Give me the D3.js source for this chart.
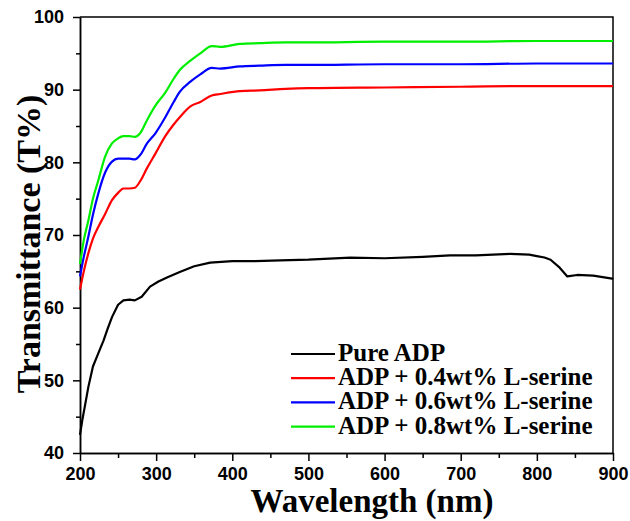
<!DOCTYPE html>
<html>
<head>
<meta charset="utf-8">
<script src="https://cdn.jsdelivr.net/npm/d3@7"></script>
<style>
  body { margin: 0; background: #fff; }
  .axis path, .axis line { stroke: #000; stroke-width: 1.5px; }
  .title { font-family: "Liberation Serif", "Times New Roman", serif; font-weight: bold; fill: #000; }
  .legend text { font-family: "Liberation Serif", "Times New Roman", serif; font-weight: bold; font-size: 25px; fill: #000; }
</style>
</head>
<body>
<svg id="chart"></svg>
<script>
// wavelength (nm) and transmittance (%)
var pureWl = [200, 203, 207, 211, 217, 224, 231, 236, 242, 250, 257, 265, 272, 281, 292, 303, 315, 331, 350, 371,
  400, 430, 463, 500, 555, 600, 650, 686, 720, 765, 790, 800, 810, 818, 830, 840, 853, 874, 899, 900]
var pureT = [42.5, 44.5, 46.8, 49.1, 51.9, 53.7, 55.5, 57.0, 58.7, 60.4, 61.0, 61.1, 61.0, 61.5, 62.9, 63.6, 64.2, 64.9, 65.7, 66.2,
  66.4, 66.4, 66.5, 66.6, 66.9, 66.8, 67.0, 67.2, 67.2, 67.4, 67.3, 67.1, 66.9, 66.6, 65.5, 64.3, 64.5, 64.4, 64.0, 63.9]

var serineWl = [200, 205, 211, 217, 224, 233, 242, 250, 257, 265, 272, 279, 288, 299, 312, 323, 331, 345, 358, 373,
  384, 410, 436, 470, 500, 600, 700, 800, 900]
var serine04 = [62.5, 65.0, 67.5, 69.5, 71.1, 72.9, 74.8, 75.8, 76.4, 76.4, 76.5, 77.4, 79.2, 81.2, 83.6, 85.2, 86.2, 87.7, 88.3, 89.2,
  89.4, 89.8, 89.9, 90.1, 90.2, 90.3, 90.4, 90.5, 90.5]
var serine06 = [64.3, 67.0, 69.8, 72.8, 75.7, 78.6, 80.1, 80.5, 80.5, 80.5, 80.4, 81.0, 82.6, 84.0, 86.2, 88.3, 89.7, 91.1, 92.1, 93.0,
  92.9, 93.2, 93.3, 93.4, 93.4, 93.5, 93.5, 93.6, 93.6]
var serine08 = [66.0, 69.3, 72.0, 75.0, 77.5, 80.8, 82.6, 83.3, 83.6, 83.6, 83.5, 84.0, 85.8, 87.8, 89.6, 91.5, 92.7, 94.0, 95.0, 96.0,
  95.9, 96.3, 96.4, 96.5, 96.5, 96.6, 96.6, 96.7, 96.7]

var seriesNames = ["Pure ADP", "ADP + 0.4wt% L-serine", "ADP + 0.6wt% L-serine", "ADP + 0.8wt% L-serine"]
var seriesColors = ["#000000", "#ff0000", "#0000ff", "#00ee00"]

var xTicks = [200, 300, 400, 500, 600, 700, 800, 900]
var yTicks = [40, 50, 60, 70, 80, 90, 100]

var width = 630, height = 521
var margin = { top: 17, right: 17, bottom: 68, left: 80 }
var plotW = width - margin.left - margin.right
var plotH = height - margin.top - margin.bottom

var svg = d3.select("#chart").attr("width", width).attr("height", height)
var g = svg.append("g").attr("transform", "translate(" + margin.left + "," + margin.top + ")")

var xScale = d3.scaleLinear().domain([200, 900]).range([0, plotW])
var yScale = d3.scaleLinear().domain([40, 100]).range([plotH, 0])

// minor ticks halfway between the majors
var xMinor = xTicks.slice(0, -1).map(function(d) { return d + 50 })
var yMinor = yTicks.slice(0, -1).map(function(d) { return d + 5 })

function styleTicks(sel) {
  sel.attr("font-family", "'Liberation Sans', Arial, sans-serif")
    .attr("font-weight", "bold")
    .attr("font-size", 18)
  sel.selectAll("text").attr("fill", "#000")
}

g.append("g").attr("class", "axis")
  .attr("transform", "translate(0," + plotH + ")")
  .call(d3.axisBottom(xScale).tickValues(xMinor).tickSize(5).tickSizeOuter(0).tickFormat(""))
g.append("g").attr("class", "axis")
  .attr("transform", "translate(0," + plotH + ")")
  .call(d3.axisBottom(xScale).tickValues(xTicks).tickSize(8).tickSizeOuter(0).tickPadding(6))
  .call(styleTicks)

g.append("g").attr("class", "axis")
  .call(d3.axisLeft(yScale).tickValues(yMinor).tickSize(4).tickSizeOuter(0).tickFormat(""))
g.append("g").attr("class", "axis")
  .call(d3.axisLeft(yScale).tickValues(yTicks).tickSize(7).tickSizeOuter(0).tickPadding(9))
  .call(styleTicks)

// top and right frame
g.append("path")
  .attr("d", "M0,0H" + plotW + "V" + plotH)
  .attr("fill", "none").attr("stroke", "#000").attr("stroke-width", 1.5)

var lineSmooth = d3.line()
  .x(function(d) { return xScale(d[0]) })
  .y(function(d) { return yScale(d[1]) })
  .curve(d3.curveMonotoneX)
var lineRough = d3.line()
  .x(function(d) { return xScale(d[0]) })
  .y(function(d) { return yScale(d[1]) })

var series = [
  { pts: d3.zip(pureWl, pureT), line: lineRough },
  { pts: d3.zip(serineWl, serine04), line: lineSmooth },
  { pts: d3.zip(serineWl, serine06), line: lineSmooth },
  { pts: d3.zip(serineWl, serine08), line: lineSmooth }
]

g.selectAll(".curve")
  .data(series)
  .enter()
  .append("path")
  .attr("class", "curve")
  .attr("fill", "none")
  .attr("stroke", function(d, i) { return seriesColors[i] })
  .attr("stroke-width", 2.2)
  .attr("stroke-linejoin", "round")
  .attr("d", function(d) { return d.line(d.pts) })

// axis titles
svg.append("text")
  .attr("class", "title")
  .attr("x", 372)
  .attr("y", 512)
  .attr("text-anchor", "middle")
  .style("font-size", "33px")
  .text("Wavelength (nm)")

svg.append("text")
  .attr("class", "title")
  .attr("transform", "translate(40,244) rotate(-90)")
  .attr("text-anchor", "middle")
  .style("font-size", "34px")
  .text("Transmittance (T%)")

// legend
var legend = svg.append("g").attr("class", "legend")
  .attr("transform", "translate(291,354)")
var rows = legend.selectAll("g")
  .data(seriesNames)
  .enter()
  .append("g")
  .attr("transform", function(d, i) { return "translate(0," + (i * 24.2) + ")" })
rows.append("line")
  .attr("x1", 0).attr("x2", 44)
  .attr("stroke", function(d, i) { return seriesColors[i] })
  .attr("stroke-width", 2.2)
rows.append("text")
  .attr("x", 47)
  .attr("y", 7)
  .text(function(d) { return d })
</script>
</body>
</html>
